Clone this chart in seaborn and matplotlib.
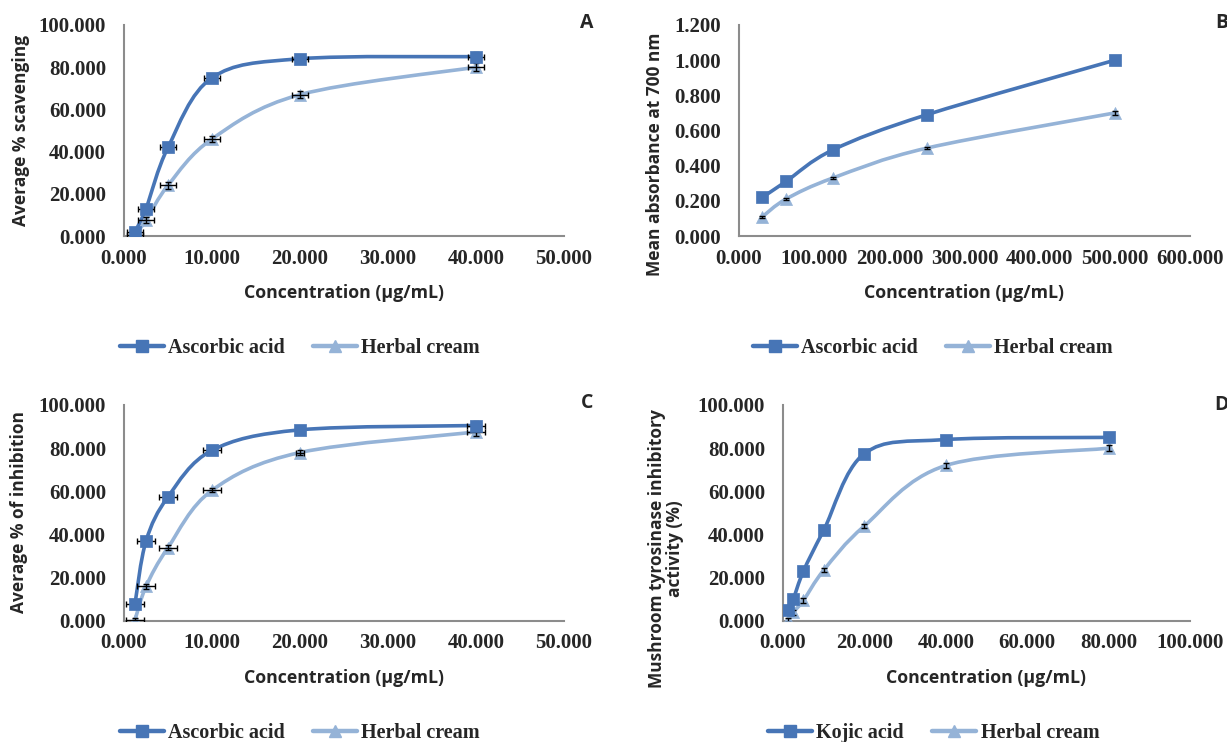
import numpy as np
import matplotlib
matplotlib.use("Agg")
import matplotlib.pyplot as plt
from matplotlib.path import Path
from matplotlib.patches import PathPatch
from matplotlib.lines import Line2D
import seaborn as sns

sns.set_style("white")

# ---------------- data ----------------
conc_a = [1.25, 2.5, 5, 10, 20, 40]
ascorbic_a = [2.0, 13.0, 42.0, 75.0, 84.0, 85.0]
herbal_a = [0.5, 7.5, 24.0, 46.0, 67.0, 80.0]
xerr_a = [0.9, 0.9, 0.9, 0.9, 0.9, 0.9]
yerr_a = [1.5, 1.5, 1.5, 1.5, 1.5, 2.0]

conc_b = [31.25, 62.5, 125, 250, 500]
ascorbic_b = [0.22, 0.31, 0.49, 0.69, 1.00]
herbal_b = [0.11, 0.21, 0.33, 0.50, 0.70]
yerr_b = [0.005, 0.005, 0.005, 0.005, 0.01]

conc_c = [1.25, 2.5, 5, 10, 20, 40]
ascorbic_c = [8.0, 37.0, 57.5, 79.0, 88.5, 90.5]
herbal_c = [0.5, 16.0, 34.0, 60.5, 78.0, 87.5]
xerr_c = [1.0, 1.0, 1.0, 1.0, 0.5, 1.0]
yerr_c = [1.0, 1.0, 1.0, 1.0, 1.0, 2.0]

conc_d = [1.25, 2.5, 5, 10, 20, 40, 80]
kojic_d = [5.0, 10.0, 23.0, 42.0, 77.5, 84.0, 85.0]
herbal_d = [0.5, 4.0, 9.5, 23.5, 44.0, 72.0, 80.0]
yerr_d = [1.0, 1.0, 1.0, 1.0, 1.0, 1.0, 1.5]

xlabel_text = "Concentration (µg/mL)"
panels = [
    dict(letter="A", x=conc_a, s1=ascorbic_a, s2=herbal_a, n1="Ascorbic acid",
         xerr=xerr_a, yerr=yerr_a, ylabel="Average % scavenging",
         xlim=(0, 50), xstep=10, ylim=(0, 100), ystep=20,
         rect=(124, 25, 564, 236), ylab_xy=(21, 130), leg_x=0.40,
         letter_xy=(587, 23)),
    dict(letter="B", x=conc_b, s1=ascorbic_b, s2=herbal_b, n1="Ascorbic acid",
         xerr=None, yerr=yerr_b, ylabel="Mean absorbance at 700 nm",
         xlim=(0, 600), xstep=100, ylim=(0, 1.2), ystep=0.2,
         rect=(739, 25, 1190, 236), ylab_xy=(655, 154), leg_x=0.43,
         letter_xy=(1222, 23)),
    dict(letter="C", x=conc_c, s1=ascorbic_c, s2=herbal_c, n1="Ascorbic acid",
         xerr=xerr_c, yerr=yerr_c, ylabel="Average % of inhibition",
         xlim=(0, 50), xstep=10, ylim=(0, 100), ystep=20,
         rect=(124, 405, 564, 621), ylab_xy=(19, 512), leg_x=0.40,
         letter_xy=(587, 403)),
    dict(letter="D", x=conc_d, s1=kojic_d, s2=herbal_d, n1="Kojic acid",
         xerr=None, yerr=yerr_d, ylabel="Mushroom tyrosinase inhibitory\nactivity (%)",
         xlim=(0, 100), xstep=20, ylim=(0, 100), ystep=20,
         rect=(783, 405, 1190, 621), ylab_xy=(666, 549), leg_x=0.37,
         letter_xy=(1222, 405)),
]

DARK = "#4775B6"
LIGHT = "#95B3D7"
AXIS = "#8C8C8C"
W, H = 1227, 742

fig = plt.figure(figsize=(W / 100, H / 100), dpi=100)
fig.patch.set_facecolor("white")

TICK_FAMILY = "Liberation Serif"
LABEL_FAMILY = "Open Sans"


def smooth_path(x, y):
    """Excel-like smoothed line as cubic Bezier path in data coordinates."""
    P = np.column_stack([x, y]).astype(float)
    n = len(P)
    verts = [P[0]]
    codes = [Path.MOVETO]
    for i in range(n - 1):
        p0 = P[i - 1] if i > 0 else P[i]
        p1 = P[i]
        p2 = P[i + 1]
        p3 = P[i + 2] if i + 2 < n else P[i + 1]
        c1 = p1 + (p2 - p0) / 6.0
        c2 = p2 - (p3 - p1) / 6.0
        verts += [c1, c2, p2]
        codes += [Path.CURVE4] * 3
    return Path(np.array(verts), codes)


for p in panels:
    l, t, r, b = p["rect"]
    aw, ah = r - l, b - t
    ax = fig.add_axes([l / W, 1 - b / H, aw / W, ah / H])
    ax.set_xlim(*p["xlim"])
    ax.set_ylim(*p["ylim"])
    ax.set_facecolor("white")
    for sp in ["top", "right"]:
        ax.spines[sp].set_visible(False)
    for sp in ["left", "bottom"]:
        ax.spines[sp].set_color(AXIS)
        ax.spines[sp].set_linewidth(1.5)
    ax.set_xticks(np.arange(p["xlim"][0], p["xlim"][1] + 1e-9, p["xstep"]))
    ax.set_yticks(np.arange(p["ylim"][0], p["ylim"][1] + 1e-9, p["ystep"]))
    ax.xaxis.set_major_formatter(matplotlib.ticker.FormatStrFormatter("%.3f"))
    ax.yaxis.set_major_formatter(matplotlib.ticker.FormatStrFormatter("%.3f"))
    ax.tick_params(axis="both", length=0)
    ax.tick_params(axis="x", pad=9)
    ax.tick_params(axis="y", pad=13)
    for lab in ax.get_xticklabels() + ax.get_yticklabels():
        lab.set_fontfamily(TICK_FAMILY)
        lab.set_fontweight("bold")
        lab.set_fontsize(15)

    # smoothed lines
    for s, col in [(p["s2"], LIGHT), (p["s1"], DARK)]:
        patch = PathPatch(smooth_path(p["x"], s), facecolor="none", edgecolor=col,
                          lw=2.6, capstyle="round", joinstyle="round", zorder=2)
        ax.add_patch(patch)

    # error bars
    for s in [p["s1"], p["s2"]]:
        ax.errorbar(p["x"], s, xerr=p["xerr"], yerr=p["yerr"], fmt="none",
                    ecolor="black", elinewidth=1.0, capsize=2.5, capthick=1.0, zorder=4)

    # markers
    sns.scatterplot(x=p["x"], y=p["s2"], ax=ax, marker="^", s=75, color=LIGHT,
                    edgecolor=LIGHT, linewidth=0.5, zorder=3, legend=False)
    sns.scatterplot(x=p["x"], y=p["s1"], ax=ax, marker="s", s=65, color=DARK,
                    edgecolor=DARK, linewidth=0.5, zorder=5, legend=False)

    # axis labels
    ax.set_xlabel(xlabel_text, fontfamily=LABEL_FAMILY, fontweight="bold",
                  fontsize=12.8)
    ax.xaxis.set_label_coords(0.5, -(57 / ah))
    ax.xaxis.label.set_verticalalignment("center")
    ax.set_ylabel(p["ylabel"], fontfamily=LABEL_FAMILY, fontweight="bold",
                  fontsize=12.5, linespacing=1.0)
    yx, yy = p["ylab_xy"]
    ax.yaxis.set_label_coords((yx - l) / aw, (b - yy) / ah)
    ax.yaxis.label.set_verticalalignment("center")

    # legend below
    handles = [
        Line2D([], [], color=DARK, lw=3.2, marker="s", markersize=8),
        Line2D([], [], color=LIGHT, lw=3.2, marker="^", markersize=8),
    ]
    ax.legend(handles, [p["n1"], "Herbal cream"], loc="center",
              bbox_to_anchor=(p["leg_x"], -(112 / ah)), ncol=2, frameon=False,
              prop=dict(family=TICK_FAMILY, weight="bold", size=14.5),
              handlelength=2.2, handletextpad=0.2, columnspacing=1.4,
              borderpad=0.0)

    # panel letter
    lx, ly = p["letter_xy"]
    fig.text(lx / W, 1 - ly / H, p["letter"], ha="center", va="center",
             fontfamily=LABEL_FAMILY, fontweight="bold", fontsize=14)

fig.savefig("out.png", dpi=100, facecolor="white")
